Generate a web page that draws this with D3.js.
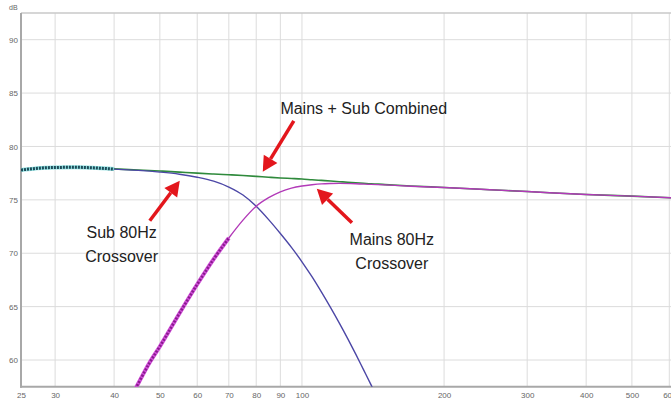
<!DOCTYPE html>
<html>
<head>
<meta charset="utf-8">
<script src="https://cdn.jsdelivr.net/npm/d3@7"></script>
<style>
  body { margin: 0; background: #fff; }
  svg { display: block; }
  .tick text { font-family: "Liberation Sans", Arial, sans-serif; font-size: 8px; fill: #666; }
  .note { font-family: "Liberation Sans", Arial, sans-serif; font-size: 16px; fill: #222; }
</style>
</head>
<body>
<svg width="671" height="400"></svg>
<script>
const width = 671, height = 400;

// frequency points (Hz)
const freqs = [25.4, 27, 28.5, 30, 33, 36, 40, 45, 50, 55, 60, 65, 70, 75, 80, 85, 90, 95, 100, 105, 110, 115, 120, 125, 130, 135, 140, 145, 150, 170, 200, 250, 300, 400, 500, 605];

// Mains + Sub combined (dB)
const combined = [77.8, 77.92, 78.0, 78.03, 78.05, 78.0, 77.9, 77.8, 77.7, 77.6, 77.5, 77.42, 77.35, 77.28, 77.2, 77.12, 77.05, 77.0, 76.95, 76.88, 76.82, 76.76, 76.7, 76.65, 76.6, 76.55, 76.5, 76.47, 76.43, 76.3, 76.16, 75.95, 75.78, 75.5, 75.35, 75.2];

// Sub with 80Hz crossover (dB)
const sub = [77.8, 77.92, 78.0, 78.03, 78.05, 78.0, 77.88, 77.76, 77.6, 77.4, 77.12, 76.75, 76.2, 75.45, 74.4, 73.15, 71.85, 70.55, 69.2, 67.8, 66.35, 64.9, 63.45, 62.0, 60.55, 59.1, 57.7, 56.3, 54.9, null, null, null, null, null, null, null];

// Mains with 80Hz crossover (dB)
const mainsFreqs = [44, 45, 47.5, 50, 55, 60, 65, 70, 75, 80, 85, 90, 95, 100, 105, 110, 115, 120, 130, 140, 150, 170, 200, 250, 300, 400, 500, 605];
const mains = [57.0, 57.8, 59.71, 61.27, 64.36, 67.09, 69.45, 71.43, 73.1, 74.4, 75.2, 75.75, 76.1, 76.3, 76.42, 76.5, 76.53, 76.54, 76.51, 76.45, 76.4, 76.28, 76.15, 75.95, 75.78, 75.5, 75.35, 75.2];

const xTicks = [25.4, 30, 40, 50, 60, 70, 80, 90, 100, 200, 300, 400, 500, 600];
const yTicks = [60, 65, 70, 75, 80, 85, 90];

const svg = d3.select("svg");

const pL = 21, pR = 671, pT = 13, pB = 386.7;

const x = d3.scaleLog().domain([25.4, 605]).range([pL, pR]);
const y = d3.scaleLinear().domain([57.5, 92.5]).range([pB, pT]);

svg.append("defs").append("clipPath").attr("id", "plot")
  .append("rect").attr("x", pL).attr("y", pT).attr("width", pR - pL).attr("height", pB - pT);

// grid
svg.append("g").selectAll("line")
  .data(xTicks.slice(1))
  .join("line")
  .attr("x1", d => x(d)).attr("x2", d => x(d))
  .attr("y1", pT).attr("y2", pB)
  .attr("stroke", "#dcdcdc");

svg.append("g").selectAll("line")
  .data(yTicks)
  .join("line")
  .attr("x1", pL).attr("x2", pR)
  .attr("y1", d => y(d)).attr("y2", d => y(d))
  .attr("stroke", "#dcdcdc");

svg.append("line").attr("x1", pL).attr("x2", pR).attr("y1", pT).attr("y2", pT)
  .attr("stroke", "#c8c8c8").attr("stroke-width", 1.5);

// axes
const xAxis = svg.append("g")
  .attr("transform", "translate(0," + pB + ")")
  .call(d3.axisBottom(x).tickValues(xTicks).tickFormat(d => Math.round(d)).tickSize(0).tickPadding(6));
xAxis.select(".domain").remove();

const yAxis = svg.append("g")
  .attr("transform", "translate(" + pL + ",0)")
  .call(d3.axisLeft(y).tickValues(yTicks).tickSize(0).tickPadding(3));
yAxis.select(".domain").remove();

svg.append("text").attr("x", 9).attr("y", 10).text("dB")
  .style("font-family", "Liberation Sans, Arial, sans-serif").style("font-size", "7px").style("fill", "#666");

svg.append("line").attr("x1", pL).attr("x2", pL).attr("y1", pT).attr("y2", pB + 1)
  .attr("stroke", "#a8a8a8").attr("stroke-width", 2);
svg.append("line").attr("x1", pL - 1).attr("x2", pR).attr("y1", pB).attr("y2", pB)
  .attr("stroke", "#a8a8a8").attr("stroke-width", 2);

// curves
const plot = svg.append("g").attr("clip-path", "url(#plot)");

const line = d3.line()
  .defined(d => d[1] != null)
  .x(d => x(d[0]))
  .y(d => y(d[1]))
  .curve(d3.curveMonotoneX);

const combData = freqs.map((f, i) => [f, combined[i]]);
const subData = freqs.map((f, i) => [f, sub[i]]);
const mainsData = mainsFreqs.map((f, i) => [f, mains[i]]);

plot.append("path").attr("d", line(combData))
  .attr("fill", "none").attr("stroke", "#2f8a3c").attr("stroke-width", 1.6);

plot.append("path").attr("d", line(subData))
  .attr("fill", "none").attr("stroke", "#4c47a6").attr("stroke-width", 1.4);

plot.append("path").attr("d", line(mainsData))
  .attr("fill", "none").attr("stroke", "#b23ab8").attr("stroke-width", 1.4);

// measured point markers on the low end
const subMarked = subData.filter(d => d[0] <= 40);
plot.append("path").attr("d", line(subMarked))
  .attr("fill", "none").attr("stroke", "#8fe0e0").attr("stroke-width", 4);
plot.append("path").attr("d", line(subMarked))
  .attr("fill", "none").attr("stroke", "#1d4a58").attr("stroke-width", 3).attr("stroke-dasharray", "2,1");

const mainsMarked = mainsData.filter(d => d[0] <= 70);
plot.append("path").attr("d", line(mainsMarked))
  .attr("fill", "none").attr("stroke", "#d050d8").attr("stroke-width", 4);
plot.append("path").attr("d", line(mainsMarked))
  .attr("fill", "none").attr("stroke", "#8a1a8e").attr("stroke-width", 2.6).attr("stroke-dasharray", "2,1.5");

// annotations (frequency, dB)
const arrows = [
  { from: [96.1, 82.4], to: [82.6, 77.63] },
  { from: [47.6, 73.04], to: [55.1, 76.79] },
  { from: [127.6, 72.85], to: [107.5, 76.04] }
];

const labels = [
  { at: [135.2, 83.06], lines: ["Mains + Sub Combined"] },
  { at: [41.5, 71.44], lines: ["Sub 80Hz", "Crossover"] },
  { at: [155, 70.79], lines: ["Mains 80Hz", "Crossover"] }
];

const red = "#e3161c";
arrows.forEach(a => {
  const x1 = x(a.from[0]), y1 = y(a.from[1]), x2 = x(a.to[0]), y2 = y(a.to[1]);
  const ang = Math.atan2(y2 - y1, x2 - x1);
  const hl = 15, hw = 8;
  const bx = x2 - hl * Math.cos(ang), by = y2 - hl * Math.sin(ang);
  svg.append("line")
    .attr("x1", x1).attr("y1", y1).attr("x2", bx).attr("y2", by)
    .attr("stroke", red).attr("stroke-width", 3.5);
  const px = -Math.sin(ang) * hw, py = Math.cos(ang) * hw;
  svg.append("path")
    .attr("d", "M" + x2 + "," + y2 + "L" + (bx + px) + "," + (by + py) + "L" + (bx - px) + "," + (by - py) + "Z")
    .attr("fill", red);
});

labels.forEach(l => {
  const t = svg.append("text").attr("class", "note")
    .attr("text-anchor", "middle")
    .attr("x", x(l.at[0])).attr("y", y(l.at[1]));
  l.lines.forEach((s, i) => {
    t.append("tspan").attr("x", x(l.at[0])).attr("dy", i ? 24 : 0).text(s);
  });
});
</script>
</body>
</html>
